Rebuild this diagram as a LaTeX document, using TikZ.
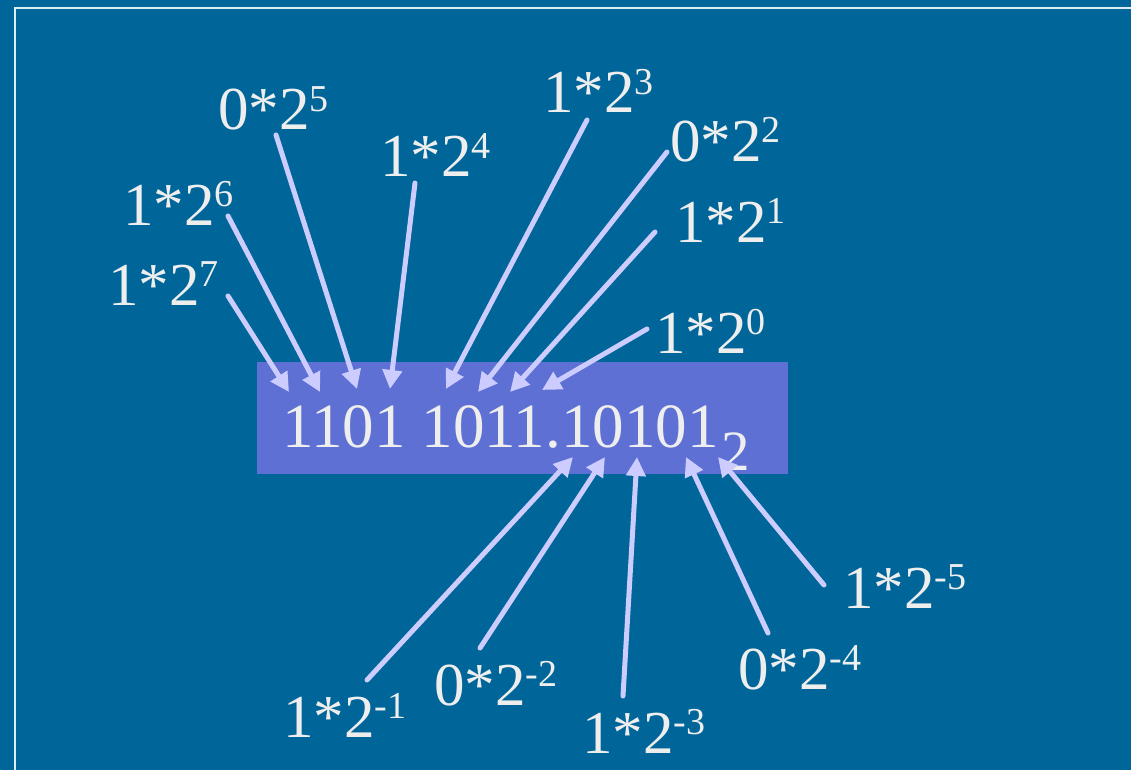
\documentclass[tikz,border=0pt]{standalone}
\usepackage{fontspec}
\setmainfont{Liberation Serif}
\usetikzlibrary{arrows.meta}
\definecolor{bgblue}{HTML}{006699}
\definecolor{boxblue}{HTML}{5F70D4}
\definecolor{txtgray}{HTML}{EEEEEE}
\definecolor{arrowlav}{HTML}{CCCCFF}
\definecolor{framecol}{HTML}{DDEEF6}
\newcommand{\pw}[2]{#1\raisebox{0.3em}{\fontsize{38}{38}\selectfont #2}}
\tikzset{
  lbl/.style={anchor=base west, inner sep=0pt, text=txtgray, font=\fontsize{61}{61}\selectfont},
  ptr/.style={draw=arrowlav, line width=5pt, line cap=round, -{Triangle[length=19pt,width=19pt]}},
  frameline/.style={draw=framecol, line width=2.4pt},
}
\begin{document}
\begin{tikzpicture}[x=1pt,y=-1pt]
\useasboundingbox (0,0) rectangle (1131,770);
\fill[bgblue] (0,0) rectangle (1131,770);
\draw[frameline] (1131,8) -- (15,8) -- (15,770);
\node[fill=boxblue, minimum width=531pt, minimum height=112pt, inner sep=0pt] (box) at (522.5,418) {};
\node[lbl, font=\fontsize{63}{63}\selectfont] (num) at (282,447) {1101 1011.10101\kern3pt\raisebox{-0.37em}{\fontsize{57}{57}\selectfont 2}};
% labels
\node[lbl] (l7) at (108,305) {\pw{1*2}{7}};
\node[lbl] (l6) at (123,225) {\pw{1*2}{6}};
\node[lbl] (l5) at (218,130) {\pw{0*2}{5}};
\node[lbl] (l4) at (380,177) {\pw{1*2}{4}};
\node[lbl] (l3) at (543,113) {\pw{1*2}{3}};
\node[lbl] (l2) at (670,161) {\pw{0*2}{2}};
\node[lbl] (l1) at (675,242) {\pw{1*2}{1}};
\node[lbl] (l0) at (655,353) {\pw{1*2}{0}};
\node[lbl] (m1) at (283,737) {\pw{1*2}{-1}};
\node[lbl] (m2) at (434,705) {\pw{0*2}{-2}};
\node[lbl] (m3) at (582,753) {\pw{1*2}{-3}};
\node[lbl] (m4) at (738,689) {\pw{0*2}{-4}};
\node[lbl] (m5) at (843,608) {\pw{1*2}{-5}};
% connector ends
\coordinate (t7) at (228,296); \coordinate (h7) at (289,392);
\coordinate (t6) at (228,216); \coordinate (h6) at (320,392);
\coordinate (t5) at (276,135); \coordinate (h5) at (357,389);
\coordinate (t4) at (415,183); \coordinate (h4) at (390,389);
\coordinate (t3) at (587,120); \coordinate (h3) at (446,389);
\coordinate (t2) at (667,152); \coordinate (h2) at (478,392);
\coordinate (t1) at (655,232); \coordinate (h1) at (510,392);
\coordinate (t0) at (647,329); \coordinate (h0) at (542,390);
\coordinate (tm1) at (367,680); \coordinate (hm1) at (573,457);
\coordinate (tm2) at (480,648); \coordinate (hm2) at (605,457);
\coordinate (tm3) at (623,696); \coordinate (hm3) at (637,457);
\coordinate (tm4) at (768,633); \coordinate (hm4) at (686,457);
\coordinate (tm5) at (824,585); \coordinate (hm5) at (718,457);
\foreach \k in {7,6,5,4,3,2,1,0,m1,m2,m3,m4,m5} {
  \draw[ptr] (t\k) -- (h\k);
}
\end{tikzpicture}
\end{document}
